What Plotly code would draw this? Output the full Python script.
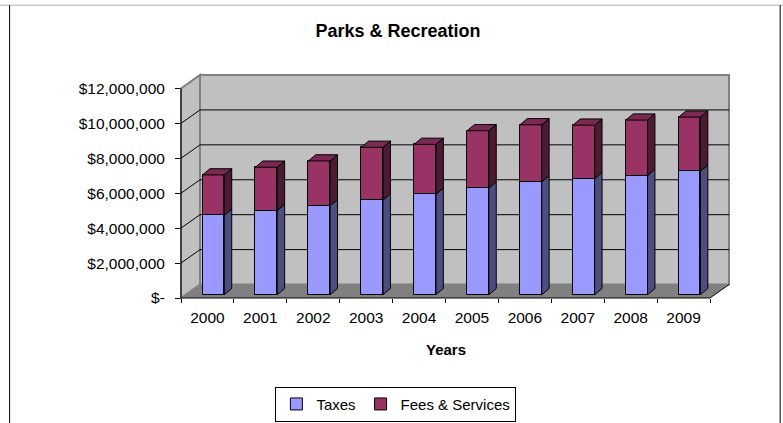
import plotly.graph_objects as go

# ---- data -------------------------------------------------------------
years = ["2000", "2001", "2002", "2003", "2004", "2005", "2006", "2007", "2008", "2009"]
taxes = [4.55e6, 4.82e6, 5.10e6, 5.43e6, 5.75e6, 6.11e6, 6.46e6, 6.65e6, 6.82e6, 7.07e6]
fees = [2.31e6, 2.48e6, 2.56e6, 3.01e6, 2.86e6, 3.28e6, 3.27e6, 3.06e6, 3.18e6, 3.10e6]
y_tick_vals = [0, 2e6, 4e6, 6e6, 8e6, 10e6, 12e6]
y_tick_text = ["$-", "$2,000,000", "$4,000,000", "$6,000,000",
               "$8,000,000", "$10,000,000", "$12,000,000"]

# ---- pseudo-3D geometry (in axis units) -------------------------------
W, H = 783, 423
ML, MR, MT, MB = 181, 53.7, 75.3, 124.7
WALL_DX, WALL_DY = 0.359, 0.771e6      # depth of the box (front -> back wall)
BAR_SHIFT, BAR_HALF = 0.113, 0.206      # front face centre offset / half width
BAR_BASE = 0.189e6                      # bars stand a little behind the front edge
BAR_DX, BAR_DY = 0.14, 0.355e6          # depth of each column
Y_TOP = 12e6
XR = [-0.5, len(years) - 0.5 + WALL_DX]
YR = [0, Y_TOP + WALL_DY]

FONT = "Liberation Sans, Arial, sans-serif"
TAX_FRONT, TAX_SIDE = "#9999FF", "#4D4D80"
FEE_FRONT, FEE_SIDE, FEE_TOP = "#993366", "#4D1A33", "#7A2952"
WALL, FLOOR, EDGE = "#C0C0C0", "#808080", "#808080"


def dom(x, y):
    return ((x - XR[0]) / (XR[1] - XR[0]), (y - YR[0]) / (YR[1] - YR[0]))


def path(points):
    pts = [dom(x, y) for x, y in points]
    return "M " + " L ".join(f"{a:.5f},{b:.5f}" for a, b in pts) + " Z"


def seg(p0, p1, color="black", width=1):
    (x0, y0), (x1, y1) = dom(*p0), dom(*p1)
    return dict(type="line", xref="x domain", yref="y domain", x0=x0, y0=y0,
                x1=x1, y1=y1, line=dict(color=color, width=width), layer="below")


x_left, x_right = -0.5, len(years) - 0.5
shapes = []
# side wall
shapes.append(dict(type="path", xref="x domain", yref="y domain", layer="below",
                   path=path([(x_left, 0), (x_left, Y_TOP),
                              (x_left + WALL_DX, Y_TOP + WALL_DY), (x_left + WALL_DX, WALL_DY)]),
                   fillcolor=WALL, line=dict(color=EDGE, width=2)))
# back wall
shapes.append(dict(type="path", xref="x domain", yref="y domain", layer="below",
                   path=path([(x_left + WALL_DX, WALL_DY), (x_right + WALL_DX, WALL_DY),
                              (x_right + WALL_DX, Y_TOP + WALL_DY), (x_left + WALL_DX, Y_TOP + WALL_DY)]),
                   fillcolor=WALL, line=dict(color=EDGE, width=2)))
# floor
shapes.append(dict(type="path", xref="x domain", yref="y domain", layer="below",
                   path=path([(x_left, 0), (x_right, 0),
                              (x_right + WALL_DX, WALL_DY), (x_left + WALL_DX, WALL_DY)]),
                   fillcolor=FLOOR, line=dict(width=0)))
# gridlines on back wall and side wall
for v in y_tick_vals[1:-1]:
    shapes.append(seg((x_left + WALL_DX, v + WALL_DY), (x_right + WALL_DX, v + WALL_DY)))
    shapes.append(seg((x_left, v), (x_left + WALL_DX, v + WALL_DY)))
# front axis lines
shapes.append(seg((x_left, 0), (x_left, Y_TOP)))
shapes.append(seg((x_left, 0), (x_right, 0)))
shapes.append(seg((x_right, 0), (x_right + WALL_DX, WALL_DY)))

# outer chart frame
px = lambda p: (p - ML) / (W - ML - MR)
py = lambda p: (H - MB - p) / (H - MT - MB)


def frame_line(x0, y0, x1, y1, color):
    return dict(type="line", xref="paper", yref="paper", x0=px(x0), y0=py(y0),
                x1=px(x1), y1=py(y1), line=dict(color=color, width=1))


shapes += [frame_line(0, 5.5, W, 5.5, "#B0B0B0"),
           frame_line(9.5, 5.5, 9.5, H + 5, "black"),
           frame_line(780.5, 5.5, 780.5, H + 5, "black")]

fig = go.Figure()

xs = [i + BAR_SHIFT for i in range(len(years))]
tops = [BAR_BASE + t for t in taxes]

fig.add_trace(go.Bar(x=xs, y=taxes, base=[BAR_BASE] * len(years), width=2 * BAR_HALF,
                     name="Taxes", marker=dict(color=TAX_FRONT, line=dict(color="black", width=1)),
                     hoverinfo="skip"))
fig.add_trace(go.Bar(x=xs, y=fees, base=tops, width=2 * BAR_HALF,
                     name="Fees & Services", marker=dict(color=FEE_FRONT, line=dict(color="black", width=1)),
                     hoverinfo="skip"))


def side_faces(bottoms, heights):
    sx, sy = [], []
    for x, b, h in zip(xs, bottoms, heights):
        xr = x + BAR_HALF
        sx += [xr, xr + BAR_DX, xr + BAR_DX, xr, xr, None]
        sy += [b, b + BAR_DY, b + h + BAR_DY, b + h, b, None]
    return sx, sy


def top_faces(bottoms, heights):
    tx, ty = [], []
    for x, b, h in zip(xs, bottoms, heights):
        xl, xr, t = x - BAR_HALF, x + BAR_HALF, b + h
        tx += [xl, xl + BAR_DX, xr + BAR_DX, xr, xl, None]
        ty += [t, t + BAR_DY, t + BAR_DY, t, t, None]
    return tx, ty


for (fx, fy), color in [(side_faces([BAR_BASE] * len(years), taxes), TAX_SIDE),
                        (side_faces(tops, fees), FEE_SIDE),
                        (top_faces(tops, fees), FEE_TOP)]:
    fig.add_trace(go.Scatter(x=fx, y=fy, mode="lines", fill="toself", fillcolor=color,
                             line=dict(color="black", width=1), showlegend=False,
                             hoverinfo="skip"))

fig.update_layout(
    width=W, height=H, autosize=False,
    margin=dict(l=ML, r=MR, t=MT, b=MB, pad=0, autoexpand=False),
    paper_bgcolor="white", plot_bgcolor="rgba(0,0,0,0)",
    font=dict(family=FONT, color="black", size=15),
    barmode="overlay", bargap=0,
    shapes=shapes,
    title=dict(text="<b>Parks & Recreation</b>", x=398 / W, y=1 - 31 / H,
               xref="container", yref="container", xanchor="center", yanchor="middle",
               font=dict(family=FONT, size=18, color="black")),
    xaxis=dict(range=XR, tickvals=list(range(len(years))), ticktext=years,
               ticks="", showgrid=False, zeroline=False, showline=False,
               tickfont=dict(family=FONT, size=15.5, color="black"),
               ticklabelstandoff=8,
               minor=dict(tickvals=[i - 0.5 for i in range(len(years) + 1)], ticks="outside",
                          ticklen=4, tickcolor="black", tickwidth=1, showgrid=False),
               fixedrange=True),
    yaxis=dict(range=YR, tickvals=y_tick_vals, ticktext=y_tick_text,
               ticks="outside", ticklen=5, tickcolor="black", tickwidth=1,
               showgrid=False, zeroline=False, showline=False,
               tickfont=dict(family=FONT, size=15.5, color="black"),
               ticklabelstandoff=7, fixedrange=True),
    legend=dict(orientation="h", x=px(396), y=py(404.5), xanchor="center", yanchor="middle",
                bordercolor="black", borderwidth=1, bgcolor="white",
                font=dict(family=FONT, size=15, color="black"),
                itemwidth=30, traceorder="normal"),
    annotations=[dict(text="<b>Years</b>", x=4.5, xref="x", y=py(350), yref="paper",
                      showarrow=False, xanchor="center", yanchor="middle",
                      font=dict(family=FONT, size=15, color="black"))],
)

fig.write_html("out.html")
